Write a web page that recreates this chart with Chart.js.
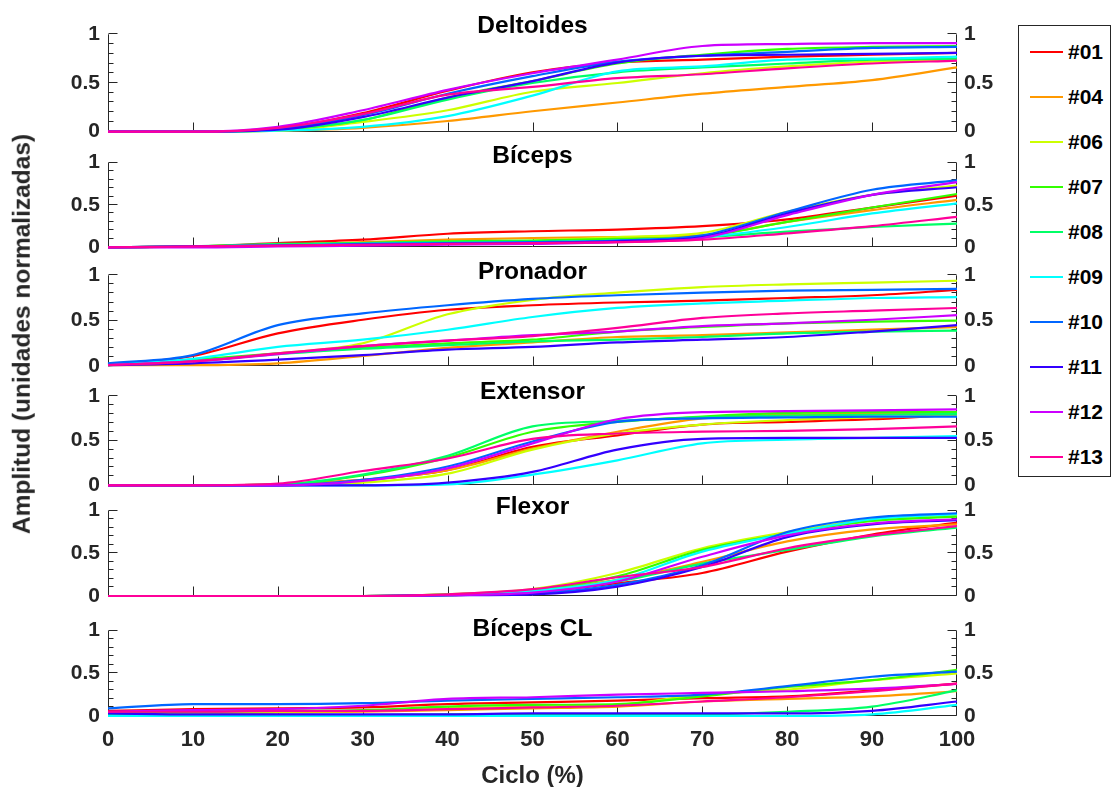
<!DOCTYPE html>
<html>
<head>
<meta charset="utf-8">
<script src="https://cdn.jsdelivr.net/npm/chart.js@4.4.1/dist/chart.umd.min.js"></script>
<style>
html,body{margin:0;padding:0;background:#fff;}
body{width:1114px;height:787px;position:relative;overflow:hidden;font-family:"Liberation Sans",Arial,Helvetica,sans-serif;}
canvas.plot{position:absolute;left:0;top:0;}
.ptitle{position:absolute;font-weight:bold;font-size:24.5px;color:#000;transform:translate(-50%,-50%);white-space:nowrap;line-height:1;}
.axlabel{position:absolute;font-weight:bold;font-size:24.5px;color:#262626;white-space:nowrap;line-height:1;}
#legend{position:absolute;left:1018px;top:25px;width:93px;height:452px;border:1px solid #262626;box-sizing:border-box;background:#fff;}
.lrow{position:absolute;left:0;width:100%;height:30px;}
.lline{position:absolute;left:11px;top:14px;width:33px;height:2px;}
.ltext{position:absolute;left:49px;top:4px;font-weight:bold;font-size:21px;color:#000;line-height:1;}
</style>
</head>
<body>
<div id="legend"></div>
<script>
// ---------------- data ----------------
const cycle = [0, 10, 20, 30, 40, 50, 60, 70, 80, 90, 100];
const subjects = ['#01', '#04', '#06', '#07', '#08', '#09', '#10', '#11', '#12', '#13'];
const muscles = ['Deltoides', 'Bíceps', 'Pronador', 'Extensor', 'Flexor', 'Bíceps CL'];
const xTickValues = [0, 10, 20, 30, 40, 50, 60, 70, 80, 90, 100];
const yTickValues = [0, 0.5, 1];

// rows follow the subjects order
const deltoides = [
  [0, 0, 0.03, 0.19, 0.42, 0.61, 0.71, 0.74, 0.77, 0.79, 0.81],
  [0, 0, 0.01, 0.04, 0.11, 0.21, 0.30, 0.39, 0.46, 0.53, 0.66],
  [0, 0, 0.01, 0.10, 0.22, 0.41, 0.50, 0.60, 0.67, 0.72, 0.74],
  [0, 0, 0.02, 0.12, 0.35, 0.52, 0.70, 0.79, 0.85, 0.87, 0.88],
  [0, 0, 0.02, 0.12, 0.33, 0.50, 0.61, 0.66, 0.70, 0.74, 0.75],
  [0, 0, 0.01, 0.05, 0.16, 0.37, 0.62, 0.67, 0.74, 0.75, 0.77],
  [0, 0, 0.03, 0.17, 0.39, 0.57, 0.72, 0.78, 0.82, 0.86, 0.87],
  [0, 0, 0.02, 0.15, 0.35, 0.52, 0.71, 0.78, 0.79, 0.80, 0.81],
  [0, 0, 0.05, 0.22, 0.43, 0.60, 0.74, 0.88, 0.90, 0.91, 0.91],
  [0, 0, 0.04, 0.18, 0.38, 0.46, 0.55, 0.59, 0.65, 0.70, 0.73]
];
const biceps = [
  [0, 0.01, 0.05, 0.09, 0.16, 0.19, 0.21, 0.25, 0.33, 0.47, 0.61],
  [0, 0.01, 0.03, 0.06, 0.09, 0.11, 0.12, 0.14, 0.30, 0.44, 0.56],
  [0, 0.01, 0.02, 0.04, 0.06, 0.08, 0.12, 0.17, 0.42, 0.62, 0.73],
  [0, 0.01, 0.03, 0.05, 0.07, 0.08, 0.10, 0.13, 0.30, 0.47, 0.63],
  [0, 0.01, 0.04, 0.05, 0.06, 0.07, 0.08, 0.12, 0.185, 0.24, 0.28],
  [0, 0.01, 0.02, 0.04, 0.05, 0.06, 0.08, 0.12, 0.24, 0.40, 0.52],
  [0, 0.01, 0.02, 0.04, 0.05, 0.06, 0.08, 0.14, 0.42, 0.68, 0.79],
  [0, 0.01, 0.02, 0.03, 0.04, 0.05, 0.07, 0.12, 0.40, 0.62, 0.71],
  [0, 0, 0.01, 0.02, 0.03, 0.04, 0.06, 0.11, 0.38, 0.62, 0.77],
  [0, 0.01, 0.02, 0.03, 0.04, 0.05, 0.06, 0.09, 0.165, 0.25, 0.36]
];
const pronador = [
  [0.02, 0.11, 0.36, 0.51, 0.62, 0.67, 0.70, 0.72, 0.75, 0.78, 0.84],
  [0.01, 0.01, 0.03, 0.11, 0.20, 0.26, 0.32, 0.34, 0.37, 0.40, 0.43],
  [0.01, 0.05, 0.14, 0.25, 0.57, 0.73, 0.81, 0.87, 0.90, 0.92, 0.94],
  [0.01, 0.07, 0.14, 0.20, 0.25, 0.29, 0.38, 0.43, 0.47, 0.49, 0.50],
  [0.01, 0.06, 0.13, 0.19, 0.23, 0.27, 0.29, 0.32, 0.36, 0.38, 0.39],
  [0.02, 0.08, 0.21, 0.29, 0.40, 0.54, 0.64, 0.69, 0.72, 0.75, 0.76],
  [0.03, 0.12, 0.45, 0.58, 0.67, 0.74, 0.78, 0.81, 0.83, 0.84, 0.85],
  [0.01, 0.03, 0.07, 0.12, 0.18, 0.21, 0.26, 0.29, 0.32, 0.38, 0.45],
  [0.01, 0.05, 0.13, 0.22, 0.28, 0.34, 0.38, 0.44, 0.47, 0.51, 0.56],
  [0.01, 0.05, 0.14, 0.22, 0.28, 0.33, 0.42, 0.53, 0.58, 0.61, 0.64]
];
const extensor = [
  [0, 0, 0.01, 0.06, 0.17, 0.43, 0.56, 0.68, 0.71, 0.74, 0.79],
  [0, 0, 0.01, 0.06, 0.17, 0.41, 0.60, 0.75, 0.79, 0.80, 0.82],
  [0, 0, 0, 0.03, 0.13, 0.40, 0.58, 0.68, 0.73, 0.76, 0.78],
  [0, 0, 0.01, 0.11, 0.31, 0.60, 0.71, 0.77, 0.81, 0.82, 0.82],
  [0, 0, 0.01, 0.12, 0.33, 0.66, 0.72, 0.76, 0.78, 0.79, 0.80],
  [0, 0, 0, 0, 0.01, 0.12, 0.28, 0.47, 0.51, 0.53, 0.55],
  [0, 0, 0, 0.06, 0.21, 0.49, 0.71, 0.75, 0.76, 0.77, 0.77],
  [0, 0, 0, 0, 0.03, 0.15, 0.40, 0.52, 0.53, 0.53, 0.53],
  [0, 0, 0, 0.05, 0.19, 0.47, 0.74, 0.82, 0.83, 0.84, 0.85],
  [0, 0, 0.02, 0.16, 0.30, 0.52, 0.58, 0.60, 0.61, 0.63, 0.66]
];
const flexor = [
  [0, 0, 0, 0, 0.01, 0.04, 0.15, 0.27, 0.52, 0.72, 0.86],
  [0, 0, 0, 0, 0.01, 0.06, 0.19, 0.40, 0.64, 0.78, 0.84],
  [0, 0, 0, 0, 0.02, 0.08, 0.27, 0.56, 0.75, 0.90, 0.94],
  [0, 0, 0, 0, 0.02, 0.07, 0.23, 0.54, 0.73, 0.88, 0.93],
  [0, 0, 0, 0, 0.01, 0.05, 0.17, 0.38, 0.54, 0.70, 0.80],
  [0, 0, 0, 0, 0.01, 0.06, 0.19, 0.52, 0.73, 0.90, 0.96],
  [0, 0, 0, 0, 0.01, 0.03, 0.13, 0.36, 0.75, 0.92, 0.97],
  [0, 0, 0, 0, 0.01, 0.02, 0.11, 0.34, 0.69, 0.84, 0.89],
  [0, 0, 0, 0, 0.01, 0.04, 0.17, 0.46, 0.71, 0.85, 0.90],
  [0, 0, 0, 0, 0.02, 0.08, 0.22, 0.34, 0.56, 0.71, 0.82]
];
const bicepsCL = [
  [0.06, 0.08, 0.09, 0.10, 0.14, 0.16, 0.18, 0.21, 0.23, 0.30, 0.38],
  [0.03, 0.03, 0.04, 0.05, 0.07, 0.09, 0.11, 0.17, 0.20, 0.23, 0.29],
  [0.03, 0.04, 0.05, 0.06, 0.09, 0.11, 0.13, 0.25, 0.31, 0.42, 0.50],
  [0.03, 0.05, 0.06, 0.07, 0.11, 0.13, 0.14, 0.23, 0.34, 0.42, 0.54],
  [0.01, 0.01, 0.01, 0.01, 0.02, 0.02, 0.02, 0.02, 0.05, 0.11, 0.30],
  [0, 0, 0, 0, 0, 0, 0, 0, 0, 0.02, 0.13],
  [0.09, 0.14, 0.14, 0.15, 0.18, 0.20, 0.22, 0.25, 0.35, 0.46, 0.52],
  [0.03, 0.02, 0.02, 0.02, 0.02, 0.03, 0.03, 0.03, 0.03, 0.06, 0.17],
  [0.05, 0.07, 0.08, 0.12, 0.20, 0.22, 0.25, 0.27, 0.29, 0.32, 0.375],
  [0.05, 0.05, 0.06, 0.06, 0.08, 0.10, 0.12, 0.17, 0.22, 0.29, 0.38]
];
const muscleSeries = [deltoides, biceps, pronador, extensor, flexor, bicepsCL];

// ---------------- styles / layout ----------------
const subjectColors = ['#ff0000', '#ff9900', '#ccff00', '#33ff00', '#00ff66',
                       '#00ffff', '#0066ff', '#3300ff', '#cc00ff', '#ff0099'];
const W = 1000, H = 787;
const AREA_LEFT = 108, AREA_RIGHT = 957;
const panels = [
  { top: 34.3, bottom: 131.7, titleY: 25 },
  { top: 162.7, bottom: 247.3, titleY: 155 },
  { top: 275.3, bottom: 366, titleY: 271 },
  { top: 396, bottom: 485.3, titleY: 391 },
  { top: 510.7, bottom: 596, titleY: 506 },
  { top: 630.7, bottom: 716, titleY: 627.5 }
];
const AXIS_COLOR = '#262626';
const FONT = '"Liberation Sans", Arial, Helvetica, sans-serif';

const axesPlugin = {
  id: 'matlabAxes',
  beforeDatasetsDraw(chart) {
    const ctx = chart.ctx;
    const xs = chart.scales.x, ys = chart.scales.y;
    const L = Math.round(xs.getPixelForValue(0)) + 0.5;
    const R = Math.round(xs.getPixelForValue(100)) - 0.5;
    const B = Math.round(ys.getPixelForValue(0)) - 0.5;
    const T = ys.getPixelForValue(1);
    ctx.save();
    ctx.strokeStyle = AXIS_COLOR;
    ctx.lineWidth = 1;
    ctx.beginPath();
    ctx.moveTo(L, T); ctx.lineTo(L, B); ctx.lineTo(R, B); ctx.lineTo(R, T);
    for (let k = 0; k <= 10; k++) {
      const y = Math.round(ys.getPixelForValue(k / 10)) - 0.5;
      const len = (k % 5 === 0) ? 9 : 5;
      ctx.moveTo(L, y); ctx.lineTo(L + len, y);
      ctx.moveTo(R, y); ctx.lineTo(R - len, y);
    }
    xTickValues.forEach(v => {
      if (v === 0 || v === 100) return;
      const x = Math.round(xs.getPixelForValue(v)) + 0.5;
      ctx.moveTo(x, B); ctx.lineTo(x, B - 9);
    });
    ctx.stroke();
    ctx.restore();
  }
};

const fmt = v => String(Math.round(v * 10) / 10);

panels.forEach((p, i) => {
  const isLast = i === panels.length - 1;
  const xh = isLast ? 40 : 0;
  const cv = document.createElement('canvas');
  cv.className = 'plot';
  cv.width = W; cv.height = H;
  document.body.appendChild(cv);

  const t = document.createElement('div');
  t.className = 'ptitle';
  t.textContent = muscles[i];
  t.style.left = ((AREA_LEFT + AREA_RIGHT) / 2) + 'px';
  t.style.top = p.titleY + 'px';
  document.body.appendChild(t);

  const series = muscleSeries[i];
  const tickFont = { family: FONT, size: 21, weight: 'bold' };
  new Chart(cv, {
    type: 'line',
    data: {
      datasets: subjects.map((s, j) => ({
        label: s,
        data: cycle.map((x, k) => ({ x: x, y: series[j][k] })),
        borderColor: subjectColors[j],
        backgroundColor: subjectColors[j],
        borderWidth: 2.2,
        pointRadius: 0,
        cubicInterpolationMode: 'monotone',
        fill: false,
        clip: 6,
        order: subjects.length - j
      }))
    },
    options: {
      responsive: false,
      animation: false,
      devicePixelRatio: 1,
      events: [],
      layout: { padding: { left: 0, right: 0, top: p.top, bottom: H - p.bottom - xh } },
      plugins: { legend: { display: false }, tooltip: { enabled: false }, title: { display: false } },
      scales: {
        x: {
          type: 'linear', min: 0, max: 100, position: 'bottom',
          grid: { display: false, drawTicks: false }, border: { display: false },
          afterBuildTicks: s => { s.ticks = xTickValues.map(v => ({ value: v })); },
          ticks: { display: isLast, autoSkip: false, maxRotation: 0, padding: 11,
                   font: { family: FONT, size: 22, weight: 'bold' }, color: AXIS_COLOR,
                   callback: v => fmt(v) },
          afterFit: s => { s.height = xh; }
        },
        y: {
          type: 'linear', min: 0, max: 1, position: 'left',
          grid: { display: false, drawTicks: false }, border: { display: false },
          afterBuildTicks: s => { s.ticks = yTickValues.map(v => ({ value: v })); },
          ticks: { padding: 8, font: tickFont, color: AXIS_COLOR, callback: v => fmt(v) },
          afterFit: s => { s.width = AREA_LEFT; }
        },
        y2: {
          type: 'linear', min: 0, max: 1, position: 'right',
          grid: { display: false, drawTicks: false }, border: { display: false },
          afterBuildTicks: s => { s.ticks = yTickValues.map(v => ({ value: v })); },
          ticks: { padding: 7, font: tickFont, color: AXIS_COLOR, callback: v => fmt(v) },
          afterFit: s => { s.width = W - AREA_RIGHT; }
        }
      }
    },
    plugins: [axesPlugin]
  });
});

// axis labels
const yl = document.createElement('div');
yl.className = 'axlabel';
yl.textContent = 'Amplitud (unidades normalizadas)';
yl.style.left = '22px'; yl.style.top = '334px';
yl.style.transform = 'translate(-50%,-50%) rotate(-90deg)';
document.body.appendChild(yl);

const xl = document.createElement('div');
xl.className = 'axlabel';
xl.textContent = 'Ciclo (%)';
xl.style.fontSize = '24px';
xl.style.left = ((AREA_LEFT + AREA_RIGHT) / 2) + 'px'; xl.style.top = '775px';
xl.style.transform = 'translate(-50%,-50%)';
document.body.appendChild(xl);

// legend
const lg = document.getElementById('legend');
subjects.forEach((s, j) => {
  const row = document.createElement('div');
  row.className = 'lrow';
  row.style.top = (26 + 45 * j - 15) + 'px';
  const ln = document.createElement('div');
  ln.className = 'lline';
  ln.style.background = subjectColors[j];
  const tx = document.createElement('div');
  tx.className = 'ltext';
  tx.textContent = s;
  row.appendChild(ln); row.appendChild(tx);
  lg.appendChild(row);
});
</script>
</body>
</html>
